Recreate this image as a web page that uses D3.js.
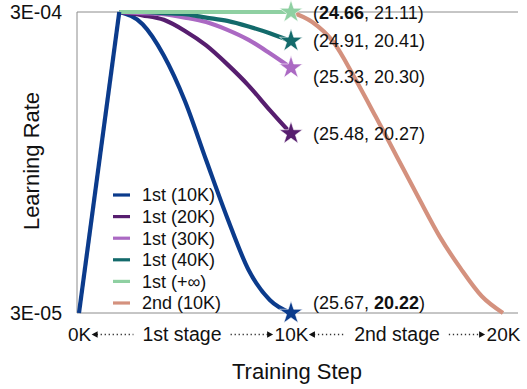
<!DOCTYPE html>
<html><head><meta charset="utf-8">
<script src="https://cdn.jsdelivr.net/npm/d3@7"></script>
<style>
html,body{margin:0;padding:0;background:#fff;}
svg{display:block;font-family:"Liberation Sans",Arial,Helvetica,sans-serif;}
</style></head>
<body><svg id="c" width="527" height="389"></svg>
<script>
// ---- data (step in K, learning rate) ----
const warmSteps = [0, 1.9];
const warmLR = [3e-5, 3e-4];
const steps1 = [1.9, 3, 4, 5, 6, 7, 8, 9, 10];
const lr1st10K = [3.0e-4, 2.89e-4, 2.61e-4, 2.20e-4, 1.67e-4, 1.15e-4, 0.686e-4, 0.417e-4, 0.30e-4];
const lr1st20K = [3.0e-4, 2.97e-4, 2.93e-4, 2.83e-4, 2.70e-4, 2.53e-4, 2.34e-4, 2.12e-4, 1.91e-4];
const lr1st30K = [3.0e-4, 2.99e-4, 2.98e-4, 2.95e-4, 2.91e-4, 2.84e-4, 2.75e-4, 2.63e-4, 2.50e-4];
const lr1st40K = [3.0e-4, 3.0e-4, 2.99e-4, 2.98e-4, 2.95e-4, 2.92e-4, 2.87e-4, 2.81e-4, 2.74e-4];
const lr1stInf = [3.0e-4, 3.0e-4, 3.0e-4, 3.0e-4, 3.0e-4, 3.0e-4, 3.0e-4, 3.0e-4, 3.0e-4];
const steps2 = [10, 11, 12, 13, 14, 15, 16, 17, 18, 19, 20];
const lr2nd10K = [3.0e-4, 2.91e-4, 2.73e-4, 2.41e-4, 2.06e-4, 1.70e-4, 1.34e-4, 0.99e-4, 0.70e-4, 0.45e-4, 0.30e-4];

const seriesNames = ["1st (10K)", "1st (20K)", "1st (30K)", "1st (40K)", "1st (+\u221E)", "2nd (10K)"];
const seriesColors = ["#0b3b8c", "#571e6f", "#ab69c3", "#136a6b", "#8fd0a2", "#d4917e"];

const annFirst = ["24.66", "24.91", "25.33", "25.48", "25.67"];
const annSecond = ["21.11", "20.41", "20.30", "20.27", "20.22"];
const annBoldFirst = [true, false, false, false, false];
const annBoldSecond = [false, false, false, false, true];

const yTickValues = [3e-5, 3e-4];
const yTickLabels = ["3E-05", "3E-04"];
const xTickValues = [0, 10, 20];
const xTickLabels = ["0K", "10K", "20K"];
const stageLabels = ["1st stage", "2nd stage"];

// ---- drawing ----
const svg = d3.select("#c");
const x = d3.scaleLinear().domain([0, 20]).range([79, 503]);
const y = d3.scaleLinear().domain([3e-5, 3e-4]).range([313, 12]);
const frameL = 77, frameR = 518;

// frame
svg.append("path")
  .attr("d", `M${frameL},${y(3e-4)}H${frameR}M${frameL},${y(3e-4)}V${y(3e-5)}H${frameR}`)
  .attr("fill", "none").attr("stroke", "#8c8c8c").attr("stroke-width", 1);

// y axis
const yAx = svg.append("g").attr("transform", `translate(${frameL},0)`)
  .call(d3.axisLeft(y).tickValues(yTickValues).tickSize(0).tickPadding(15)
    .tickFormat((d, i) => yTickLabels[i]));
yAx.select(".domain").remove();
yAx.selectAll("text").attr("font-size", 19.5).attr("fill", "#111").attr("font-family", null);

// x axis
const xAx = svg.append("g").attr("transform", `translate(0,${y(3e-5)})`)
  .call(d3.axisBottom(x).tickValues(xTickValues).tickSize(0).tickPadding(14.5)
    .tickFormat((d, i) => xTickLabels[i]));
xAx.select(".domain").remove();
xAx.selectAll("text").attr("font-size", 19).attr("fill", "#111").attr("font-family", null);

// stage labels with dotted arrows
const rowY = y(3e-5) + 14.5 + 19 * 0.71;
const tickTexts = xAx.selectAll("text").nodes();
const tickW = tickTexts.map(n => n.getComputedTextLength());
[[0, 10], [10, 20]].forEach(([a, b], i) => {
  const cx = x((a + b) / 2) - (i === 0 ? 3 : 0);
  const t = svg.append("text").attr("x", cx).attr("y", rowY)
    .attr("text-anchor", "middle").attr("font-size", 19.5).attr("fill", "#111").text(stageLabels[i]);
  const w = t.node().getComputedTextLength();
  const leftStart = x(a) + tickW[xTickValues.indexOf(a)] / 2 + 1;
  const leftEnd = cx - w / 2 - 9;
  const rightStart = cx + w / 2 + 9;
  const rightEnd = x(b) - tickW[xTickValues.indexOf(b)] / 2 - 1;
  const ay = rowY - 6.5;
  const dotted = (x1, x2) => svg.append("line").attr("x1", x1).attr("x2", x2)
    .attr("y1", ay).attr("y2", ay).attr("stroke", "#333").attr("stroke-width", 1.3)
    .attr("stroke-dasharray", "1.3,2.7");
  dotted(leftStart + 5, leftEnd);
  dotted(rightStart, rightEnd - 5);
  svg.append("path").attr("d", `M${leftStart},${ay}l6,-3.2v6.4z`).attr("fill", "#111");
  svg.append("path").attr("d", `M${rightEnd},${ay}l-6,-3.2v6.4z`).attr("fill", "#111");
});

// axis titles
svg.append("text").attr("x", 297).attr("y", 379).attr("text-anchor", "middle")
  .attr("font-size", 22).attr("fill", "#111").text("Training Step");
svg.append("text").attr("transform", "translate(39,161) rotate(-90)").attr("text-anchor", "middle")
  .attr("font-size", 22).attr("fill", "#111").text("Learning Rate");

// lines
const line = d3.line().x(d => x(d[0])).y(d => y(d[1])).curve(d3.curveMonotoneX);
const zip = (s, v) => s.map((t, i) => [t, v[i]]);
const firstStage = [lr1st10K, lr1st20K, lr1st30K, lr1st40K, lr1stInf];

svg.append("path").datum(zip(steps2, lr2nd10K)).attr("d", line)
  .attr("fill", "none").attr("stroke", seriesColors[5]).attr("stroke-width", 4.2);

firstStage.forEach((v, i) => {
  svg.append("path").datum(zip(steps1, v)).attr("d", line)
    .attr("fill", "none").attr("stroke", seriesColors[i]).attr("stroke-width", 4.2)
    .attr("stroke-linejoin", "round");
});
svg.append("path").datum(zip(warmSteps, warmLR)).attr("d", d3.line().x(d => x(d[0])).y(d => y(d[1])))
  .attr("fill", "none").attr("stroke", seriesColors[0]).attr("stroke-width", 4.2).attr("stroke-linejoin", "round");

// stars
const star = d3.symbol().type(d3.symbolStar).size(165);
firstStage.forEach((v, i) => {
  svg.append("path").attr("d", star)
    .attr("transform", `translate(${x(steps1[steps1.length - 1])},${y(v[v.length - 1])})`)
    .attr("fill", seriesColors[i]).attr("stroke", "#fff").attr("stroke-width", 0.6);
});

// annotations
const annOrder = [4, 3, 2, 1, 0]; // series index for each annotation (top to bottom)
const annDy = [7, 6, 15, 6, -4];
annOrder.forEach((si, k) => {
  const v = firstStage[si];
  const t = svg.append("text").attr("x", 313).attr("y", y(v[v.length - 1]) + annDy[k])
    .attr("font-size", 18).attr("fill", "#111");
  t.append("tspan").text("(");
  t.append("tspan").attr("font-weight", annBoldFirst[k] ? "bold" : null).text(annFirst[k]);
  t.append("tspan").text(", ");
  t.append("tspan").attr("font-weight", annBoldSecond[k] ? "bold" : null).text(annSecond[k]);
  t.append("tspan").text(")");
});

// legend
const lg = svg.append("g");
seriesNames.forEach((n, i) => {
  const yy = 195 + i * 21.6;
  lg.append("line").attr("x1", 113).attr("x2", 130).attr("y1", yy).attr("y2", yy)
    .attr("stroke", seriesColors[i]).attr("stroke-width", 3.2);
  lg.append("text").attr("x", 142).attr("y", yy + 6.3).attr("font-size", 18)
    .attr("fill", "#111").text(n);
});
</script></body></html>
